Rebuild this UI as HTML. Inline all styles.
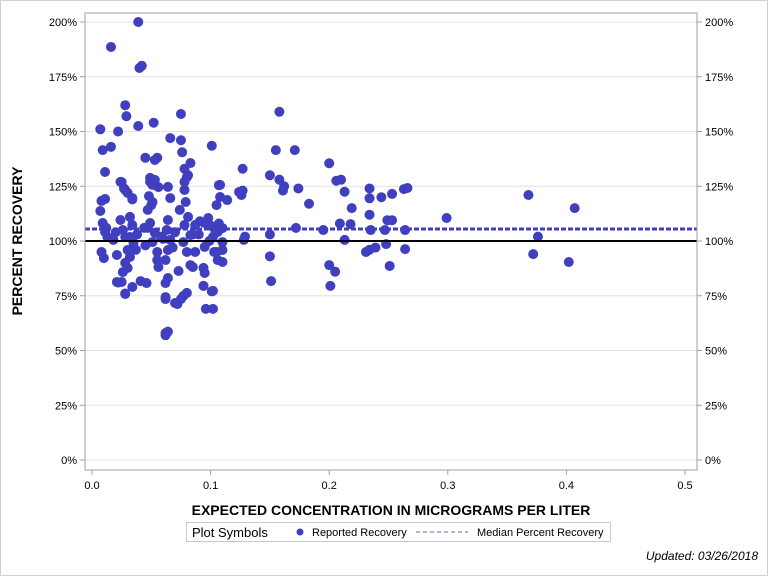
<!DOCTYPE html>
<html><head><meta charset="utf-8"><style>
body{margin:0;background:#fff;font-family:"Liberation Sans",sans-serif}
svg text{font-family:"Liberation Sans",sans-serif}
</style></head><body>
<svg width="768" height="576">
<rect x="0.5" y="0.5" width="767" height="575" fill="#fff" stroke="#d0d0d0"/>
<g id="grid"></g>
<g id="axes"></g>
<g id="marks"></g>
<rect x="85" y="13" width="612" height="457" fill="none" stroke="#a0a0a0"/>
<text x="22" y="241" transform="rotate(-90 22 241)" text-anchor="middle" font-size="14" font-weight="bold" fill="#000">PERCENT RECOVERY</text>
<text x="391" y="515" text-anchor="middle" font-size="14" font-weight="bold" fill="#000">EXPECTED CONCENTRATION IN MICROGRAMS PER LITER</text>
<g>
<rect x="186.5" y="522.5" width="424" height="19" fill="#fff" stroke="#c8c8c8"/>
<text x="192" y="537" font-size="13" fill="#000">Plot Symbols</text>
<circle cx="300" cy="532" r="3.5" fill="#3f3fbf"/>
<text x="312" y="536" font-size="11" fill="#000">Reported Recovery</text>
<line x1="416" y1="532" x2="468" y2="532" stroke="#6060c8" stroke-dasharray="4,3"/>
<text x="477" y="536" font-size="11" fill="#000">Median Percent Recovery</text>
</g>
<text x="758" y="560" text-anchor="end" font-size="12" font-style="italic" fill="#000">Updated: 03/26/2018</text>
</svg>
<script>
const xTicks=[0,0.1,0.2,0.3,0.4,0.5];
const xTickLabels=["0.0","0.1","0.2","0.3","0.4","0.5"];
const yTicks=[0,25,50,75,100,125,150,175,200];
const yTickLabels=["0%","25%","50%","75%","100%","125%","150%","175%","200%"];
const medianValue=105.5;
const referenceValue=100;
const concX=[0.016,0.039,0.040,0.042,0.007,0.022,0.028,0.029,0.009,0.016,0.039,0.052,0.075,0.045,0.055,0.053,0.066,0.075,0.076,0.101,0.158,0.155,0.171,0.200,0.158,0.162,0.161,0.150,0.174,0.183,0.127,0.107,0.127,0.126,0.206,0.210,0.213,0.234,0.234,0.244,0.253,0.263,0.266,0.368,0.407,0.299,0.219,0.218,0.209,0.234,0.249,0.253,0.264,0.247,0.235,0.213,0.195,0.172,0.150,0.129,0.128,0.234,0.239,0.231,0.248,0.264,0.150,0.200,0.205,0.251,0.151,0.201,0.372,0.376,0.402,0.062,0.064,0.070,0.096,0.075,0.062,0.028,0.046,0.022,0.101,0.094,0.103,0.110,0.027,0.030,0.034,0.049,0.056,0.048,0.050,0.024,0.011,0.078,0.083,0.081,0.078,
0.008,0.011,0.007,0.009,0.011,0.013,0.018,0.008,0.010,0.021,0.024,0.026,0.028,0.032,0.034,0.032,0.035,0.030,0.032,0.028,0.030,0.026,0.021,0.025,0.034,0.028,0.041,0.025,0.028,0.034,0.049,0.053,0.051,0.051,0.047,0.049,0.053,0.051,0.055,0.055,0.056,0.064,0.066,0.064,0.063,0.066,0.064,0.062,0.064,0.062,0.062,0.072,0.073,0.062,0.080,0.078,0.079,0.074,0.081,0.078,0.083,0.077,0.080,0.083,0.085,0.080,0.077,0.087,0.087,0.095,0.098,0.095,0.104,0.102,0.106,0.110,0.108,0.108,0.114,0.105,0.110,0.105,0.110,0.106,0.094,0.095,0.094,0.102,0.102,0.124,
0.020,0.038,0.044,0.058,0.070,0.090,0.100,0.104,0.012,0.045,0.060,0.085,0.099,0.107,0.037,0.047,0.068,0.091];
const recoveryY=[188.6,200,179,180,151,150,162,157,141.5,143,152.5,154,158,138,138,137,147,146,140.5,143.5,159,141.5,141.5,135.5,128,125,123,130,124,117,133,125.5,123,121,127.5,128,122.5,124,119.5,120,121.5,123.7,124.2,121,115,110.5,115,107.7,108,112,109.5,109.5,105,105,105,100.5,105,106,103,102,100.5,96,97,95,98.6,96.3,93,89,86,88.6,81.7,79.5,94,102,90.4,57,58.6,71.7,69,73.5,74.4,76,80.8,81,77,79.5,95,90.4,124,122,119,127,124.6,120.5,116.4,127,131.5,133,135.6,130,127,
118.3,119.2,113.7,108.2,104.1,101.8,100.5,95.0,92.2,93.6,109.6,105.0,101.8,111.0,107.3,101.8,99.1,95.9,92.7,90.0,87.7,85.8,81.3,81.3,79.0,75.8,81.7,126.9,123.3,119.6,128.8,127.9,125.6,117.8,114.2,108.2,103.7,99.5,95.0,91.3,88.1,124.7,119.6,109.6,105.0,100.5,95.9,91.3,83.1,80.8,73.5,71.2,86.3,58.0,129.2,123.3,117.8,114.2,111.0,107.3,102.7,99.5,95.0,89.0,88.1,76.3,74.9,95.0,107.3,97.3,110.5,108.2,106.4,101.8,104.1,105.9,125.6,120.1,118.7,116.4,99.5,95.0,95.9,91.3,87.7,85.4,79.5,77.2,69.0,122.4,
104,103,106,102,104,103,107,104,106,98,101,103,100,108,96,106,97,109];
const X0=85,X1=697,Y0=13,Y1=470;
function sx(v){return 92+v*1186;}
function sy(v){return 460-v*2.19;}
const NS="http://www.w3.org/2000/svg";
function mk(tag,attrs,parent){const e=document.createElementNS(NS,tag);for(const k in attrs)e.setAttribute(k,attrs[k]);document.getElementById(parent).appendChild(e);return e;}
yTicks.forEach((t,i)=>{
  const y=sy(t);
  const g=mk('line',{x1:X0,x2:X1,y1:y,y2:y,stroke:'#e4e4e4'},'grid');
  
  
  const tl=mk('line',{x1:X0-5,x2:X0,y1:y,y2:y,stroke:'#a0a0a0'},'axes');
  
  
  const tr=mk('line',{x1:X1,x2:X1+5,y1:y,y2:y,stroke:'#a0a0a0'},'axes');
  
  
  const a=mk('text',{x:X0-8,y:y+4,'text-anchor':'end','font-size':11,fill:'#000'},'axes');
  a.textContent=yTickLabels[i];
  
  
  const b=mk('text',{x:X1+8,y:y+4,'text-anchor':'start','font-size':11,fill:'#000'},'axes');
  b.textContent=yTickLabels[i];
  
  
});
xTicks.forEach((t,i)=>{
  const x=sx(t);
  const tk=mk('line',{x1:x,x2:x,y1:Y1,y2:Y1+5,stroke:'#a0a0a0'},'axes');
  
  
  const l=mk('text',{x:x,y:Y1+19,'text-anchor':'middle','font-size':11,fill:'#000'},'axes');
  l.textContent=xTickLabels[i];
  
  
});
concX.forEach((v,i)=>{
  const c=mk('circle',{cx:sx(v),cy:sy(recoveryY[i]),r:5,fill:'#3f3fbf'},'marks');
  
  
});
const ref=mk('line',{x1:X0,x2:X1,y1:sy(referenceValue),y2:sy(referenceValue),stroke:'#000','stroke-width':2},'marks');


const med=mk('line',{x1:X0,x2:X1,y1:sy(medianValue),y2:sy(medianValue),stroke:'#3f3fbf','stroke-width':3,'stroke-dasharray':'5,2'},'marks');


</script>
</body></html>
